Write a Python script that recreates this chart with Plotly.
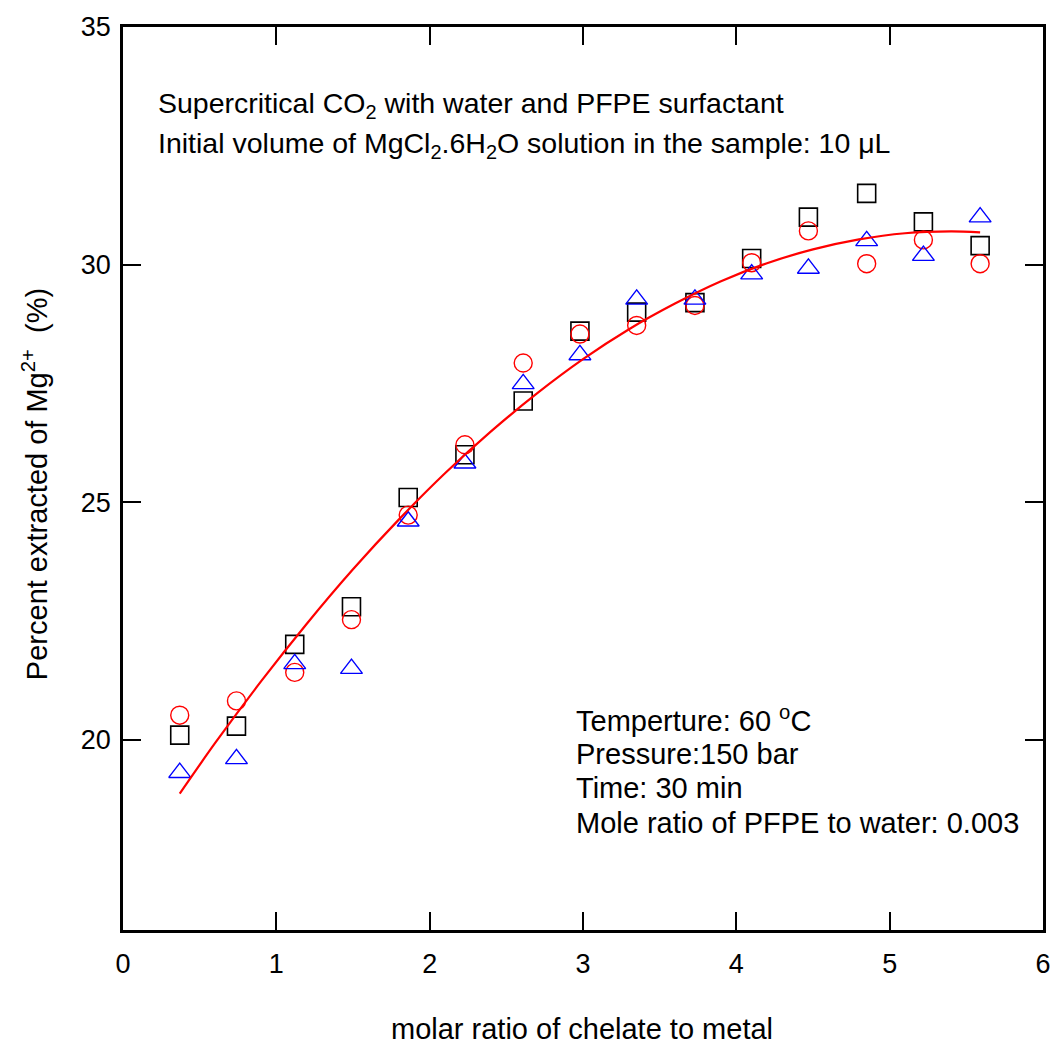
import plotly.graph_objects as go

# ---- data ----
ratio = [0.37, 0.74, 1.12, 1.49, 1.86, 2.23, 2.61, 2.98, 3.35, 3.73, 4.10, 4.47, 4.85, 5.22, 5.59]
squares = [20.10, 20.29, 22.01, 22.80, 25.10, 26.00, 27.13, 28.60, 29.00, 29.20, 30.13, 31.00, 31.50, 30.90, 30.40]
circles = [20.52, 20.82, 21.42, 22.53, 24.73, 26.21, 27.93, 28.54, 28.72, 29.14, 30.04, 30.71, 30.02, 30.52, 30.02]
triangles = [19.31, 19.60, 21.60, 21.50, 24.60, 25.82, 27.49, 28.10, 29.27, 29.27, 29.80, 29.92, 30.50, 30.19, 31.00]

# fitted curve, points
fit_x = [0.37, 0.60, 0.90, 1.20, 1.50, 1.80, 2.10, 2.40, 2.70, 3.00, 3.30, 3.60, 3.90, 4.20, 4.50, 4.80, 5.10, 5.40, 5.59]
fit_y = [18.87, 19.93, 21.23, 22.45, 23.59, 24.64, 25.61, 26.49, 27.29, 28.01, 28.64, 29.18, 29.65, 30.03, 30.32, 30.53, 30.66, 30.70, 30.68]

x_ticks = [0, 1, 2, 3, 4, 5, 6]
y_ticks = [20, 25, 30, 35]

REG = "Liberation Sans, Arial, sans-serif"

fig = go.Figure()
fig.add_trace(go.Scatter(x=ratio, y=squares, mode="markers",
                         marker=dict(symbol="square-open", size=18, color="black", line=dict(width=1.6)),
                         showlegend=False))
fig.add_trace(go.Scatter(x=ratio, y=circles, mode="markers",
                         marker=dict(symbol="circle-open", size=18, color="red", line=dict(width=1.4)),
                         showlegend=False))
fig.add_trace(go.Scatter(x=ratio, y=triangles, mode="markers",
                         marker=dict(symbol="triangle-up-open", size=19, color="blue", line=dict(width=1.4)),
                         showlegend=False))
fig.add_trace(go.Scatter(x=fit_x, y=fit_y, mode="lines", line=dict(color="red", width=2.2, shape="spline", smoothing=0.8),
                         showlegend=False))

axis_common = dict(showline=True, linecolor="black", linewidth=2.5, mirror="ticks",
                   ticks="inside", ticklen=18, tickwidth=2, tickcolor="black",
                   showgrid=False, zeroline=False,
                   tickfont=dict(family=REG, size=27, color="black"))

fig.update_xaxes(range=[0, 6], tickvals=x_ticks, ticktext=[str(v) for v in x_ticks],
                 ticklabelstandoff=8, **axis_common)
fig.update_yaxes(range=[16, 35], tickvals=y_ticks, ticktext=[str(v) for v in y_ticks],
                 ticklabelstandoff=4, **axis_common)

W, H = 1063, 1047
L, R, T, B = 123, 1050, 22, 930

def px(xp):
    return (xp - L) / (R - L)

def py(yp):
    return (B - yp) / (B - T)

ann = []
def add(text, x, y, size, xanchor="left", angle=0):
    ann.append(dict(text=text, x=px(x), y=py(y), xref="paper", yref="paper",
                    xanchor=xanchor, yanchor="middle", showarrow=False, textangle=angle,
                    font=dict(family=REG, size=size, color="black")))

add("Supercritical CO<sub>2</sub> with water and PFPE surfactant", 156, 100, 28.5)
add("Initial volume of MgCl<sub>2</sub>.6H<sub>2</sub>O solution in the sample: 10 \u03bcL", 156, 141, 28.5)

add("Temperture: 60 <sup>o</sup>C", 577, 718, 29)
add("Pressure:150 bar", 577, 753, 29)
add("Time: 30 min", 577, 787, 29)
add("Mole ratio of PFPE to water: 0.003", 577, 822, 29)

add("molar ratio of chelate to metal", 585, 1030, 29, xanchor="center")
add("Percent extracted of Mg<sup>2+</sup>\u00a0\u00a0(%)", 35, 482, 29, xanchor="center", angle=-90)

fig.update_layout(width=W, height=H, margin=dict(l=L, r=W - R, t=T, b=H - B),
                  paper_bgcolor="white", plot_bgcolor="white", annotations=ann)

fig.write_html("out.html")
